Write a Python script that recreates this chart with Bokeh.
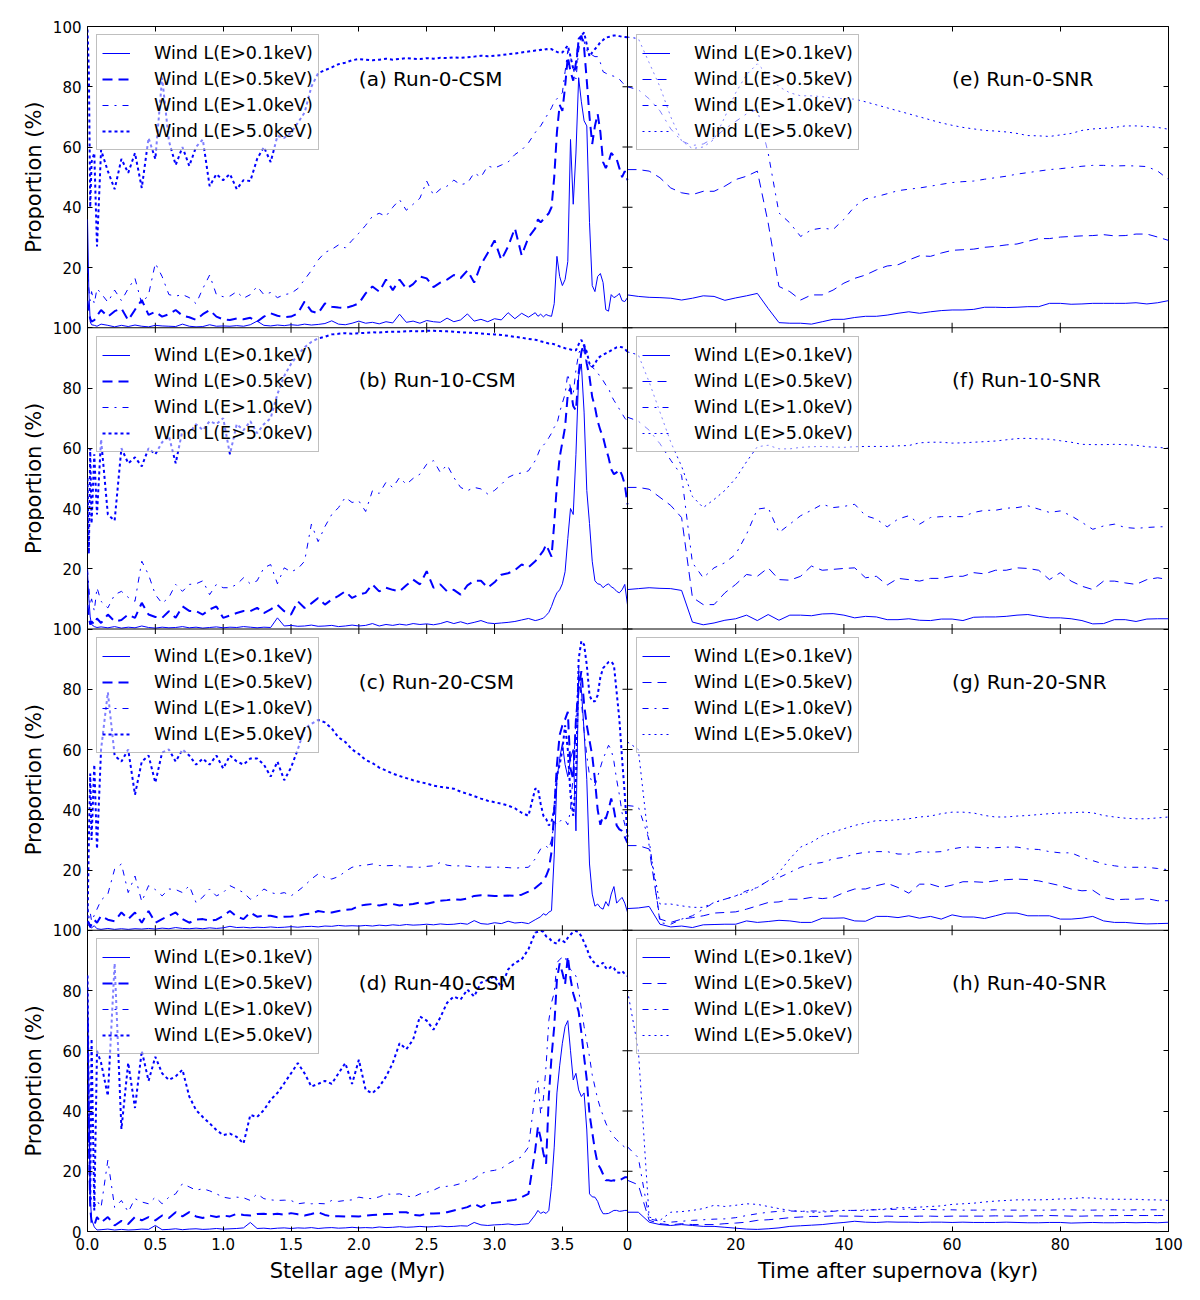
import math
from bokeh.plotting import figure
from bokeh.models import Range1d, LinearAxis, FixedTicker, Legend, LegendItem, Label, Span
from bokeh.layouts import row, column
from bokeh.core.properties import value
from bokeh.embed import file_html
from bokeh.resources import INLINE

# ---------------- data ----------------
X_CSM_EARLY = [0.0, 0.01, 0.02, 0.03, 0.05, 0.07,
               0.1, 0.15, 0.2, 0.25, 0.3, 0.35, 0.4, 0.45, 0.5, 0.55, 0.6, 0.65, 0.7, 0.75, 0.8, 0.85, 0.9, 0.95, 1.0,
               1.05, 1.1, 1.15, 1.2, 1.25, 1.3, 1.35, 1.4, 1.45, 1.5, 1.55, 1.6, 1.65, 1.7, 1.75, 1.8, 1.85, 1.9, 1.95, 2.0,
               2.05, 2.1, 2.15, 2.2, 2.25, 2.3, 2.35, 2.4, 2.45, 2.5, 2.55, 2.6, 2.65, 2.7, 2.75, 2.8, 2.85, 2.9, 2.95, 3.0,
               3.05, 3.1, 3.15, 3.2, 3.25, 3.3]
X_CSM_LATE = [3.32, 3.34, 3.36, 3.38, 3.4, 3.42, 3.44, 3.46, 3.48, 3.5, 3.52, 3.54, 3.56, 3.58, 3.6, 3.62, 3.64,
              3.66, 3.68, 3.7, 3.72, 3.74, 3.76, 3.78, 3.8, 3.82, 3.84, 3.86, 3.88, 3.9, 3.92, 3.94, 3.96, 3.98]
X_CSM = X_CSM_EARLY + X_CSM_LATE

X_SNR = [0, 2, 4, 6, 8, 10, 12, 14, 16, 18, 20, 22, 24, 26, 28, 30, 32, 34, 36, 38, 40, 42, 44, 46, 48, 50,
         52, 54, 56, 58, 60, 62, 64, 66, 68, 70, 72, 74, 76, 78, 80, 82, 84, 86, 88, 90, 92, 94, 96, 98, 100]

# (a) Run-0-CSM
A_01 = [36, 12, 2, 1, 0.8, 0.5,
        1.2, 0.8, 0.3, 0.8, 0.4, 0.9, 0.5, 0.3, 0.8, 0.6, 0.5, 0.4, 1.2, 0.5, 0.3, 0.4, 1.0, 0.5, 0.6,
        0.5, 0.7, 0.5, 1.0, 2.2, 0.8, 0.6, 0.9, 0.7, 1.0, 0.8, 1.2, 0.9, 1.1, 1.4, 2.3, 1.2, 1.0, 1.5, 2.2,
        1.5, 1.8, 1.3, 2.0, 1.6, 4.5, 1.8, 2.2, 1.5, 2.4, 2.0, 1.8, 3.2, 2.0, 2.6, 4.6, 2.2, 2.8, 2.0, 3.0,
        2.6, 5.0, 3.0, 4.8, 3.5, 5.0,
        3.8, 4.5, 3.6, 4.4, 4.0, 3.8, 8.0, 23.7, 17, 14, 16, 22, 62.5, 41, 58, 83, 75, 68.7, 67, 35,
        14, 12, 17, 18, 15, 6, 5.5, 11, 10, 10.5, 11.4, 9, 8.7, 10]
A_05 = [9, 5, 3, 2, 2.5, 4,
        5.9, 3.7, 5.5, 6.4, 2.5, 6.0, 9.2, 4.3, 5.3, 3.7, 4.5, 5.9, 4.0, 3.5, 2.6, 4.5, 5.9, 3.7, 2.8,
        2.6, 3.1, 2.8, 3.3, 2.0, 3.7, 4.8, 4.0, 3.5, 3.7, 4.8, 8.7, 5.5, 4.8, 8.1, 7.0, 6.7, 6.5, 7.2, 8.1,
        11.4, 13.7, 12, 16, 12.5, 16, 13, 14.5, 17, 16.4, 13.5, 15, 16, 17.5, 16.5, 19, 15, 21, 24.8, 29,
        22.5, 27, 33, 24, 30, 33,
        36, 35, 36, 37, 38, 40, 50, 65, 74, 72, 80, 90, 85, 82, 88, 95, 97, 93, 82, 70,
        61, 67, 71, 65, 55, 53, 55, 58, 57, 56, 53, 50, 52, 49]
A_10 = [20, 13, 9, 12, 8, 13,
        11.4, 8.5, 12.5, 9, 13, 16.4, 8, 11, 21.4, 17, 11, 10.5, 11, 10, 8, 13, 17.5, 11, 10.3,
        10.5, 12, 9.8, 11, 13.7, 11, 11.7, 10, 11, 11.4, 13, 16, 19, 22.5, 25, 26, 27.5, 26.5, 29, 31.4,
        34, 37, 38, 37, 40, 42.5, 39, 41, 43, 48.7, 44, 46, 47, 49, 47.5, 48, 51.4, 50, 53.7, 53,
        54, 55, 57.5, 59, 61.4, 64.8,
        66, 67, 68.5, 70, 71.4, 73, 75, 76, 77, 78, 85, 92, 90, 86, 82.6, 92, 97, 95, 92, 91.4,
        90.5, 90, 90, 88, 85, 84.5, 84, 83.7, 83.5, 83, 82.5, 81.5, 80.5, 79.8]
A_50 = [99, 85, 40, 55, 58, 27,
        59, 52, 46, 56, 51.4, 58, 46.4, 63, 56, 83, 62, 54, 60, 53.7, 60, 62.5, 47, 51, 49,
        51, 46, 49, 48.7, 56, 60, 55, 63.7, 63, 64.8, 68, 71.4, 80, 84.5, 85.5, 86.4, 87.5, 88, 88.8, 89.2,
        89, 88.8, 89, 89.3, 89, 89.2, 89.5, 89.3, 89.2, 89.5, 89.3, 89.6, 89.5, 89.8, 89.6, 89.8, 90, 90.3, 90.1, 90.3,
        90.5, 90.8, 91, 91.4, 91.7, 92,
        92, 92.3, 92.1, 92.5, 92.3, 92.5, 92, 91.6, 91.2, 91.4, 92.5, 93.7, 90, 86, 85.9, 95.9, 97, 98, 94, 90,
        91.4, 92.5, 93.5, 94.8, 95.5, 96.4, 96.5, 96.8, 97, 97, 96.8, 96.6, 96.5, 96.4]

# (b) Run-10-CSM
B_01 = [19, 10, 4, 1.5, 0.8, 0.5,
        0.7, 0.4, 0.8, 0.3, 0.6, 0.4, 1.0, 0.5, 0.3, 0.6, 0.4, 0.5, 0.8, 0.4, 0.6, 0.3, 0.5, 0.7, 0.4,
        0.6, 0.5, 0.8, 0.6, 0.4, 0.6, 0.5, 3.7, 1.0, 1.2, 0.9, 1.0, 1.3, 0.9, 1.0, 1.2, 0.8, 1.0, 1.3, 1.0,
        1.2, 1.8, 1.0, 1.5, 1.2, 1.6, 1.3, 1.8, 1.5, 1.7, 1.4, 1.8, 2.5, 1.8, 2.4, 1.7, 2.2, 2.8, 2.0, 1.8,
        2.0, 2.2, 2.5, 3.0, 3.5, 2.8,
        3.0, 3.3, 3.6, 4.5, 5.5, 7.5, 10, 12, 13, 15, 19, 30, 40, 38, 58, 84, 88, 72, 46, 35,
        22.5, 16, 15, 14.8, 13.7, 14.5, 15, 14, 13.5, 12.5, 12, 13, 14.8, 8]
B_05 = [8, 4, 1.5, 2.5, 1.5, 3.5,
        2.0, 4.8, 2.5, 3.0, 4.8, 3.7, 8.7, 4.8, 4.0, 3.7, 5.9, 3.7, 7.5, 6.0, 5.9, 4.8, 6.5, 7.5, 3.7,
        4.5, 5.3, 6.0, 5.9, 7.0, 5.3, 6.5, 8.0, 5.9, 4.8, 9.2, 7.0, 8.5, 10.3, 8.1, 9.8, 11, 12.5, 10.3, 11.4,
        12, 14.8, 12.5, 13.7, 13, 12.5, 14.5, 16.4, 14.8, 19.2, 13.7, 14.8, 12.5, 13, 11.4, 14.5, 16, 16, 13.7, 15.5,
        18, 18.5, 19.5, 21.4, 20.5, 22.5,
        23.5, 24.8, 26, 28, 26, 24, 35, 48, 57, 62, 67, 78, 80, 74, 72.5, 85, 92, 94.8, 88, 83.7,
        77, 73.7, 69, 66, 63.7, 60, 57, 53, 51.4, 52, 53, 51, 48, 41.4]
B_10 = [20, 14, 8, 10, 6, 13.7,
        9.2, 7, 11.4, 12.5, 10.5, 9.2, 22.5, 18, 11.4, 8.5, 10.5, 14.8, 12.5, 14.8, 15, 16, 11.4, 14.8, 13.7,
        13.7, 14.8, 17, 15, 16, 20.3, 21.4, 15, 20.3, 19, 20, 22.5, 34.8, 29, 34, 38, 40.3, 43.7, 42, 42.5,
        39, 45.9, 45, 48.7, 47, 50.3, 48, 50, 51.4, 54.7, 55.9, 52, 54.5, 50.3, 47, 45.9, 47, 46.5, 44.8, 46,
        48, 50.3, 51.4, 51.8, 52.5, 55.9,
        58, 60.3, 61, 62, 63.5, 65, 67, 68, 72, 75, 78, 84.8, 80, 78, 86, 91.4, 93.7, 92, 88, 87.5,
        87, 86, 85, 83.7, 82.5, 81, 80, 77.5, 75.9, 74.5, 73, 71.5, 70, 69]
B_50 = [50, 25, 60, 35, 58, 38,
        63, 38, 36, 60, 55, 57, 54, 60, 58, 62, 64, 55, 66, 65, 68, 66, 69, 68, 70,
        58, 68, 66, 69, 65, 68, 70, 78, 84, 88, 91, 93.5, 95.3, 96.5, 97, 97.8, 98, 98.2, 98, 98.2,
        98.3, 98.5, 98.4, 98.6, 98.7, 98.7, 98.8, 98.9, 98.8, 99, 99, 98.9, 98.8, 98.7, 98.5, 98.4, 98.3, 98.1, 97.9, 97.8,
        97.6, 97.3, 97, 96.7, 96.3, 96,
        95.8, 95.5, 95.3, 95, 94.8, 94.8, 94.5, 94.2, 93.8, 93.5, 93.2, 93, 92.8, 92.5, 92.5, 94.5, 96, 94, 92, 88,
        87, 88, 89.8, 90.5, 91, 91.5, 92, 92.5, 93, 93.5, 93.7, 93.5, 93, 92]

# (c) Run-20-CSM
C_01 = [2.2, 1.5, 1.0, 0.8, 1.5, 0.5,
        0.3, 0.6, 0.3, 0.5, 0.3, 0.5, 0.4, 0.6, 0.4, 0.7, 0.5, 0.9, 0.6, 0.5, 0.7, 0.5, 0.8, 0.6, 0.8,
        1.3, 0.9, 1.0, 0.8, 1.0, 0.9, 1.1, 0.9, 1.0, 1.2, 1.0, 1.2, 1.3, 1.1, 1.4, 1.3, 1.6, 1.4, 1.5, 1.4,
        1.6, 1.4, 1.7, 1.5, 1.8, 1.6, 1.9, 1.7, 1.8, 2.0, 1.8, 2.1, 1.9, 2.0, 2.3, 2.0, 3.2, 2.2, 2.0, 2.5,
        2.2, 3.0, 2.4, 2.6, 2.2, 3.5,
        4.0, 4.5, 5.5, 5.0, 6.0, 6.5, 25, 50, 57, 62, 55, 51, 57, 60, 33, 85, 80, 66, 50, 22,
        12, 8, 8.7, 7.5, 7, 9.5, 8, 12, 14.5, 9, 10, 10.9, 9, 6]
C_05 = [3.0, 2.5, 1.0, 2.0, 3.5, 2.5,
        4.8, 3.5, 3.0, 5.9, 3.7, 5.9, 2.5, 6.4, 2.5, 3.7, 4.8, 5.9, 3.7, 2.5, 3.5, 3.7, 3.2, 3.5, 4.8,
        6.4, 4.5, 3.7, 5.9, 4.5, 4.8, 4.8, 4.3, 4.5, 4.6, 4.8, 5.3, 5.5, 6.4, 6.0, 5.9, 6.4, 6.8, 7.0, 8.1,
        8.5, 8.7, 8.2, 8.6, 8.7, 8.2, 8.5, 8.7, 9.2, 8.8, 9.3, 9.8, 10, 10.3, 10.1, 10.5, 11.4, 11.6, 11.5, 11.4,
        11.4, 11.5, 11.4, 11.8, 12.8, 14,
        14.8, 15.5, 16.4, 18, 20.3, 26, 40, 55, 64.8, 68, 70, 72.5, 53.7, 50, 70, 80, 86, 75, 68, 63,
        58, 50, 40, 35, 38, 37, 40, 43.7, 40, 34.8, 33.5, 33, 31, 29]
C_10 = [8, 4, 6, 3, 5, 7,
        10, 12, 20.3, 22, 12.5, 18, 9.5, 14.8, 13.5, 11.4, 13.7, 13.5, 12.5, 14.8, 9.2, 11, 13.7, 11.4, 12.5,
        14.8, 13.7, 12.5, 10.3, 11.4, 13.7, 12.5, 12, 12.5, 11.4, 13, 14.8, 17, 18.7, 17.5, 17, 17.8, 19.5, 20.9, 21.4,
        21.6, 22, 21.5, 21.4, 21.5, 21.4, 21, 21, 20.9, 21.2, 21.4, 22.5, 21.6, 21.3, 21.4, 21.3, 21, 21.1, 20.9, 21,
        20.9, 20.8, 20.6, 20.8, 20.9, 23.7,
        25.5, 27, 27.5, 28, 27, 30, 36, 35, 36, 37, 36.5, 35, 40, 52, 70, 87, 76, 66, 58, 51.4,
        49, 48, 51, 54, 57, 59, 61.4, 60, 56, 50, 45, 39, 35, 31.4]
C_50 = [2, 30, 52, 30, 55, 27,
        60, 79, 58, 56, 60, 45, 56, 58, 49, 59, 60, 56, 60, 58, 55, 57, 55, 58, 53.7,
        58, 56, 55, 57, 57, 55, 51, 56, 49.8, 54, 60, 67, 68.5, 69.8, 69, 67, 64, 62.5, 60, 58.5,
        56.5, 55.5, 54, 53, 52, 51.2, 50.5, 49.8, 49.2, 48.7, 48, 47.6, 47.3, 47, 46, 45.3, 44.5, 43.7, 43, 42.5,
        42, 41.4, 40.5, 39, 38, 47,
        47, 42, 38, 37, 34.8, 36, 40, 51.4, 55, 60, 68, 60, 45, 38, 50, 90, 96, 94.8, 88, 78,
        76, 76, 78, 84, 87, 88, 89, 89.2, 88, 79, 70, 57, 45, 31]

# (d) Run-40-CSM
D_01 = [85, 45, 12, 4, 1.5, 0.5,
        0.6, 0.8, 0.5, 0.7, 0.5, 0.6, 0.8, 0.7, 2.0, 0.6, 0.7, 0.9, 0.6, 0.8, 0.9, 0.7, 0.8, 1.0, 0.8,
        0.9, 1.0, 1.2, 3.0, 1.0, 1.1, 0.9, 1.1, 1.2, 1.0, 1.2, 1.1, 1.3, 1.0, 1.2, 1.3, 1.1, 1.2, 1.4, 1.2,
        1.3, 1.2, 1.5, 1.3, 1.4, 1.6, 1.4, 1.5, 1.7, 1.5, 1.6, 1.8, 1.6, 1.7, 1.9, 1.8, 3.0, 2.2, 2.0, 2.2,
        2.3, 2.5, 2.2, 2.4, 2.6, 5.5,
        7.0, 6.0, 6.5, 6.0, 7.0, 15, 28, 46, 55, 62.5, 68, 70, 60, 50.3, 52.5, 47, 44.8, 46, 33.7, 12.5,
        11.5, 11.4, 10, 7.5, 5.9, 5.9, 6.0, 6.5, 7.0, 7.0, 6.7, 6.8, 7.0, 7.0]
D_05 = [70, 30, 8, 3, 2, 4.8,
        3.0, 4.8, 2.0, 3.5, 2.5, 4.8, 3.7, 4.8, 3.7, 5.3, 4.5, 6.4, 5.0, 6.4, 5.0, 4.5, 5.3, 4.8, 5.3,
        5.0, 5.9, 5.5, 5.3, 5.8, 5.9, 5.6, 5.9, 5.6, 6.1, 5.7, 5.3, 5.8, 6.4, 5.5, 5.0, 5.1, 5.0, 5.1, 5.0,
        5.3, 5.5, 5.6, 5.8, 5.9, 6.4, 6.4, 5.5, 5.3, 5.9, 6.0, 6.1, 6.4, 7.0, 7.5, 8.1, 9.2, 8.1, 9.2, 9.5,
        9.8, 10.2, 10.5, 11.4, 12.5, 27,
        34.8, 31, 26, 22.5, 44.8, 58, 68, 83.7, 89, 86, 82, 91.4, 84, 79, 76, 73, 66, 58, 50.3, 39,
        33, 27, 22.5, 21, 19, 17, 17, 16.8, 17, 16.7, 17, 17.5, 18, 18]
D_10 = [75, 35, 15, 10, 8, 10.3,
        8, 23.7, 8, 10.3, 6.5, 10.9, 9.8, 9.2, 11.4, 9.2, 11.4, 12.5, 15.9, 14.8, 13.7, 14.2, 13.5, 12.5, 11.4,
        11, 11.4, 11.2, 10.3, 12.5, 10.9, 10.5, 10.3, 10.4, 10.3, 9.2, 9.5, 9.2, 9.3, 9.2, 10.3, 10.0, 10.3, 10.5, 11.4,
        11.0, 10.9, 11.5, 12.5, 12.3, 12.5, 11.8, 11.4, 12.5, 13, 13.7, 14.8, 15, 15.3, 15.9, 17, 17.5, 19.2, 20, 20.3,
        20.9, 22.5, 23.7, 24.8, 28, 45.9,
        50, 39, 44, 55, 70, 76, 79.2, 89.2, 90.3, 91, 91.4, 88, 87, 86, 84.8, 80, 74, 68, 63, 58,
        52, 48, 44, 41, 38.5, 36, 34, 33, 31.4, 30.5, 29.5, 28.7, 28, 27]
D_50 = [85, 40, 10, 64, 7, 60,
        56, 45, 89, 34, 56, 41, 60, 50, 58, 52.5, 50.3, 51.5, 53.7, 44.8, 40.3, 38, 35.9, 33.7, 32,
        32.5, 31.4, 29.2, 38.7, 38, 40.3, 43.7, 46, 49.2, 52.5, 55.9, 52.5, 48.1, 49, 50, 49, 52.5, 55.9, 49, 57,
        47, 45.9, 48, 51.4, 55.9, 62.5, 60.5, 63.7, 71.4, 70, 67, 71, 75.9, 78, 77, 80.3, 78, 82.6, 83.5, 84.8,
        81, 87, 89.2, 90.3, 93.7, 99.2,
        99.5, 99.8, 99.5, 98, 97.5, 96.5, 95.9, 95.5, 97, 96.5, 96, 97.5, 98.5, 99.5, 99.8, 99.3, 98, 96, 94, 91.4,
        90, 89, 88, 88.5, 89.2, 87.5, 87, 88, 87.5, 86, 85.9, 86.5, 85.5, 84.8]

# (e) Run-0-SNR
E_01 = [10.9, 10.4, 10.1, 10.0, 9.8, 9.2, 9.8, 10.6, 10.4, 9.1, 9.9, 10.6, 11.4, 6.4, 1.7, 1.5, 1.5, 1.2, 2.0, 2.8,
        2.8, 3.4, 3.8, 3.8, 4.2, 4.8, 5.3, 4.8, 5.3, 5.7, 5.9, 5.9, 6.1, 6.8, 6.8, 6.7, 6.8, 7.0, 7.0, 8.1,
        8.1, 7.8, 7.9, 8.1, 8.1, 8.1, 8.1, 8.3, 7.9, 8.3, 9.0]
E_05 = [52.5, 52.5, 52.0, 49.8, 46.4, 44.8, 44.2, 45.3, 45.3, 47.0, 49.2, 50.3, 52.0, 34.8, 13.7, 12.0, 9.2, 10.9,
        10.9, 12.5, 14.8, 16.4, 17.5, 19.2, 20.5, 20.9, 22.5, 23.9, 23.7, 24.8, 25.7, 25.9, 26.1, 26.7, 27.0, 27.5,
        27.8, 28.7, 29.6, 29.6, 30.1, 30.3, 30.5, 30.6, 30.9, 30.5, 30.6, 31.1, 31.1, 30.1, 29.0]
E_10 = [80, 79, 76, 72, 66, 62, 60.5, 61, 63, 66, 68.5, 71, 72.5, 58, 38.1, 34.8, 30.3, 32.5, 33.1, 32.6,
        36, 40.3, 42.8, 43.5, 44.5, 45.5, 46, 46.4, 47, 47.6, 48.2, 48.5, 48.7, 49.3, 49.8, 50.3, 51, 51.5, 52, 52.5,
        52.8, 53.2, 53.6, 53.9, 53.9, 53.7, 53.8, 53.7, 53.5, 52, 49.2]
E_50 = [96.5, 96, 88, 80, 70, 62, 59.5, 60, 62.5, 70, 78, 84, 87.6, 84, 80, 78, 77, 77, 76.7, 76.2,
        76, 75.9, 75, 74, 73, 72, 71, 70, 69, 68, 67.2, 66.5, 66, 65.5, 65.3, 65, 64.5, 63.8, 63.7, 63.5,
        64, 64.5, 65.5, 66, 66.2, 66.5, 67, 67, 66.8, 66.5, 65.9]

# (f) Run-10-SNR
F_01 = [13.1, 13.4, 13.7, 13.5, 13.4, 12.8, 2.3, 1.4, 2.0, 2.9, 3.4, 4.6, 2.8, 4.8, 2.9, 4.6, 4.6, 4.4, 5.0, 5.1,
        4.6, 3.7, 4.2, 4.0, 3.1, 3.1, 3.4, 2.9, 2.8, 3.3, 3.3, 2.8, 3.9, 4.0, 4.0, 4.2, 4.6, 4.8, 4.2, 3.7,
        3.7, 3.4, 2.8, 1.7, 1.8, 3.1, 3.1, 2.5, 3.3, 3.4, 3.4]
F_05 = [47, 47, 46.4, 43.7, 41, 37, 10.5, 8.1, 8.1, 12, 14.8, 18.1, 17.5, 20.3, 16.4, 16.2, 17.5, 20.9, 19.5, 19.8,
        20.1, 20.3, 17.0, 17.5, 14.6, 16.8, 16.4, 15.9, 16.8, 16.8, 17.5, 17.5, 18.7, 18.3, 19.5, 19.5, 20.3, 20.1,
        19.5, 16.4, 18.7, 15.9, 14.2, 13.1, 15.9, 15.9, 15.3, 14.8, 16.4, 17.0, 16.4]
F_10 = [70.3, 69, 66, 61.5, 56, 51, 22, 17, 20.3, 22, 24.8, 31.4, 39.8, 40.3, 32, 34.8, 37.6, 39.4, 41.4, 40.3,
        40.7, 41.4, 37.6, 36.5, 33.9, 36.5, 37.6, 34.8, 37, 37.3, 37.3, 37.3, 38.7, 39.4, 39.4, 40.1, 40.3, 40.9,
        39.8, 38.7, 39.2, 37.6, 35.4, 33.1, 34.2, 34.8, 33.7, 33.4, 33.7, 33.9, 34.0]
F_50 = [92, 91, 82, 72, 62, 54, 44, 40.3, 43, 46, 50, 55.5, 60.5, 61, 59.8, 59.8, 60.3, 60.5, 60.6, 60.4,
        60.3, 60.5, 60.6, 60.6, 60.6, 60.8, 60.9, 61.8, 62.0, 62.0, 61.7, 61.8, 62.0, 62.2, 62.4, 62.8, 63.2, 63.3,
        63.1, 63.0, 62.5, 62, 61.3, 61.2, 61.2, 61.3, 61.2, 61, 60.5, 60.3, 60.0]

# (g) Run-20-SNR
G_01 = [7.2, 7.4, 7.9, 2.0, 1.1, 1.4, 0.9, 1.8, 1.9, 2.0, 2.0, 3.1, 2.6, 2.9, 3.3, 3.1, 2.6, 2.6, 4.0, 4.0,
        4.1, 3.1, 3.0, 4.6, 4.6, 4.2, 4.8, 4.0, 4.6, 3.7, 5.1, 4.4, 4.4, 3.9, 4.8, 5.7, 5.7, 4.8, 4.8, 4.8,
        3.7, 3.7, 4.0, 4.6, 3.1, 2.6, 2.6, 2.3, 2.1, 2.2, 2.3]
G_05 = [28.1, 28.1, 27.0, 3.7, 2.6, 3.7, 4.2, 4.8, 5.7, 5.9, 6.1, 7.0, 8.1, 9.2, 9.4, 10.3, 10.3, 10.9, 10.5, 10.9,
        12.5, 13.7, 13.7, 14.8, 15.6, 14.2, 12.3, 15.3, 15.3, 14.2, 15.0, 16.1, 16.1, 15.9, 16.4, 16.8, 17.0, 16.8,
        16.4, 15.6, 14.8, 13.7, 13.1, 13.3, 10.9, 10.1, 10.3, 10.3, 10.5, 9.8, 9.8]
G_10 = [41.4, 41, 30, 2.5, 2.0, 3.7, 4.8, 7.0, 9.2, 10.3, 11.4, 13.1, 14.2, 16.4, 17.5, 19.2, 20.9, 22.0, 22.5, 23.7,
        24.2, 25.3, 25.9, 26.1, 26.1, 25.3, 25.3, 26.1, 25.9, 26.1, 27.0, 27.6, 27.6, 27.4, 27.4, 27.6, 27.6, 27.0,
        26.8, 26.1, 25.7, 25.7, 24.2, 23.1, 22.0, 21.4, 20.9, 20.9, 20.9, 20.5, 20.1]
G_50 = [62.5, 60, 28, 8.7, 8.7, 8.1, 7.6, 7.6, 9.2, 10.3, 11.4, 12.5, 14.2, 16.4, 19.2, 23.7, 27.6, 29.2, 31.4, 32.6,
        33.7, 34.8, 35.6, 36.4, 36.4, 36.7, 37.0, 37.6, 37.9, 38.7, 39.2, 39.2, 38.9, 38.1, 37.6, 37.6, 37.9, 38.1,
        38.4, 38.7, 38.9, 39.0, 39.2, 39.0, 38.1, 37.6, 37.2, 37.0, 37.0, 37.3, 37.6]

# (h) Run-40-SNR
H_01 = [6.4, 6.4, 3.1, 2.3, 2.0, 2.3, 2.0, 1.7, 1.7, 1.4, 1.1, 0.8, 0.7, 0.9, 1.2, 1.7, 1.9, 2.1, 2.3, 2.7,
        3.0, 3.4, 3.1, 3.0, 3.2, 3.1, 3.1, 3.0, 3.1, 3.1, 3.0, 3.1, 3.0, 3.0, 3.0, 3.1, 3.0, 2.9, 2.9, 3.0,
        3.0, 2.8, 2.9, 3.0, 2.9, 2.9, 3.0, 2.9, 3.0, 2.9, 3.1]
H_05 = [17, 15.5, 3.7, 2.6, 2.2, 2.6, 2.3, 2.3, 2.3, 2.6, 2.8, 3.1, 3.7, 3.9, 4.2, 4.6, 4.8, 5.0, 5.0, 5.2,
        5.1, 5.1, 5.0, 5.0, 5.1, 5.0, 5.0, 5.1, 5.1, 5.0, 5.1, 5.1, 5.1, 5.1, 5.2, 5.1, 5.1, 5.2, 5.2, 5.3,
        5.2, 5.1, 5.1, 5.2, 5.2, 5.3, 5.3, 5.3, 5.3, 5.3, 5.3]
H_10 = [28.1, 24.5, 4.2, 3.4, 3.1, 3.4, 3.7, 3.9, 4.1, 4.2, 4.6, 5.3, 5.9, 6.4, 6.7, 6.8, 6.7, 6.8, 6.8, 6.7,
        7.0, 7.0, 7.2, 7.2, 7.3, 7.4, 7.4, 7.3, 7.3, 7.2, 7.2, 7.1, 7.1, 7.1, 7.2, 7.1, 7.1, 7.1, 7.1, 7.1,
        7.2, 7.2, 7.1, 7.1, 7.2, 7.2, 7.1, 7.2, 7.2, 7.2, 7.2]
H_50 = [80, 60.3, 4.8, 3.7, 6.4, 6.6, 7.0, 7.6, 8.7, 8.3, 8.7, 9.2, 9.0, 8.3, 7.6, 7.0, 6.7, 6.4, 6.4, 6.8,
        7.0, 7.0, 7.0, 7.3, 7.5, 7.9, 7.9, 8.1, 8.3, 8.5, 9.0, 9.2, 9.4, 9.8, 10.1, 10.3, 10.5, 10.5, 10.5, 10.6,
        10.8, 10.9, 11.2, 11.1, 10.8, 10.7, 10.7, 10.7, 10.5, 10.5, 10.3]

SERIES_LABELS = ["Wind L(E>0.1keV)", "Wind L(E>0.5keV)", "Wind L(E>1.0keV)", "Wind L(E>5.0keV)"]
CSM_TITLES = ["(a) Run-0-CSM", "(b) Run-10-CSM", "(c) Run-20-CSM", "(d) Run-40-CSM"]
SNR_TITLES = ["(e) Run-0-SNR", "(f) Run-10-SNR", "(g) Run-20-SNR", "(h) Run-40-SNR"]
CSM_DATA = [[A_01, A_05, A_10, A_50], [B_01, B_05, B_10, B_50], [C_01, C_05, C_10, C_50], [D_01, D_05, D_10, D_50]]
SNR_DATA = [[E_01, E_05, E_10, E_50], [F_01, F_05, F_10, F_50], [G_01, G_05, G_10, G_50], [H_01, H_05, H_10, H_50]]

XT_CSM = [0.0, 0.5, 1.0, 1.5, 2.0, 2.5, 3.0, 3.5]
XT_CSM_LABELS = ["0.0", "0.5", "1.0", "1.5", "2.0", "2.5", "3.0", "3.5"]
XT_SNR = [0, 20, 40, 60, 80, 100]
XT_SNR_LABELS = ["0", "20", "40", "60", "80", "100"]
YT = [0, 20, 40, 60, 80, 100]
Y_LABEL = "Proportion (%)"
X_LABEL_CSM = "Stellar age (Myr)"
X_LABEL_SNR = "Time after supernova (kyr)"

# ---------------- layout / style ----------------
BLUE = "#0000ff"
FONT = "DejaVu Sans"
FW_L, FW_R = 540, 541
FW = FW_L + FW_R
FH = 1205
PANEL_H = FH / 4.0
CSM_END = 3.98
X_END = CSM_END * FW / FW_L
TICK = 5
YLAB_W = 44           # width of the strip holding the y-axis titles
LEFT = 87             # left edge of the plotting frame on the page
TOP = 26
BOTTOM_AXIS = 24
RIGHT = 16
LEG_H = 114

STY_CSM = [dict(line_width=1, line_dash="solid"), dict(line_width=2, line_dash="10 6"),
           dict(line_width=1, line_dash="6 6 2 6"), dict(line_width=2, line_dash="3 3")]
STY_SNR = [dict(line_width=1, line_dash="solid"), dict(line_width=1, line_dash="9 6"),
           dict(line_width=1, line_dash="6 6 2 6"), dict(line_width=1, line_dash="2 4")]

p = figure(frame_width=FW, frame_height=FH, x_range=Range1d(0, X_END), y_range=Range1d(0, 400),
           output_backend="svg", toolbar_location=None,
           min_border_left=LEFT - YLAB_W, min_border_right=RIGHT, min_border_top=TOP,
           min_border_bottom=BOTTOM_AXIS)
p.extra_x_ranges = {"snr": Range1d(-100.0 * FW_L / FW_R, 100)}
p.extra_y_ranges = {"row%d" % k: Range1d(-100 * (3 - k), 100 + 100 * k) for k in range(4)}
p.xgrid.grid_line_color = None
p.ygrid.grid_line_color = None
p.outline_line_color = "black"
p.outline_line_width = 1
p.background_fill_color = "white"
p.border_fill_color = "white"

snr_pos = [round(CSM_END + t / 100.0 * (X_END - CSM_END), 6) for t in XT_SNR]
x_ticks = XT_CSM + snr_pos
x_labels = dict(zip(x_ticks, XT_CSM_LABELS + XT_SNR_LABELS))
y_ticks = sorted(set(t + 100 * k for k in range(4) for t in YT))
y_labels = {v: ("0" if v == 0 else ("100" if v % 100 == 0 else str(v % 100))) for v in y_ticks}


def style_axis(ax, labels):
    ax.major_tick_in = TICK
    ax.major_tick_out = 0
    ax.minor_tick_line_color = None
    ax.axis_line_color = None
    ax.major_tick_line_color = "black"
    ax.major_label_text_font = FONT
    if labels is None:
        ax.major_label_text_font_size = "0px"
        ax.major_label_standoff = 0
    else:
        ax.major_label_text_font_size = "15px"
        ax.major_label_text_color = "black"
        ax.major_label_standoff = 6
        ax.major_label_overrides = labels


xb = p.xaxis[0]
xb.ticker = FixedTicker(ticks=x_ticks)
style_axis(xb, x_labels)
yl = p.yaxis[0]
yl.ticker = FixedTicker(ticks=y_ticks)
style_axis(yl, y_labels)

xa = LinearAxis(ticker=FixedTicker(ticks=x_ticks))
xa.major_label_overrides = {t: "" for t in x_ticks}
style_axis(xa, None)
p.add_layout(xa, "above")
yr = LinearAxis(ticker=FixedTicker(ticks=y_ticks))
yr.major_label_overrides = {t: "" for t in y_ticks}
style_axis(yr, None)
p.add_layout(yr, "right")

# panel borders and inner tick marks
for b in [100, 200, 300]:
    p.add_layout(Span(location=b, dimension="width", line_color="black", line_width=1))
p.add_layout(Span(location=CSM_END, dimension="height", line_color="black", line_width=1))
dy = TICK * 400.0 / FH
dx = TICK * X_END / FW
for b in [100, 200, 300]:
    p.segment(x0=x_ticks, y0=[b - dy] * len(x_ticks), x1=x_ticks, y1=[b + dy] * len(x_ticks),
              line_color="black", line_width=1)
p.segment(x0=[CSM_END - dx] * len(y_ticks), y0=y_ticks, x1=[CSM_END + dx] * len(y_ticks), y1=y_ticks,
          line_color="black", line_width=1)


def add_panel(k, xs, data, styles, xr_name, title, title_x, legend_x):
    rname = "row%d" % k
    rs = []
    for ys, st in zip(data, styles):
        n = min(len(xs), len(ys))
        r = p.line(xs[:n], ys[:n], line_color=BLUE, line_alpha=1.0, x_range_name=xr_name,
                   y_range_name=rname, **st)
        rs.append(r)
    p.add_layout(Label(x=title_x, y=82.5, x_range_name=xr_name, y_range_name=rname, text=title,
                       text_font=FONT, text_font_size="20px", text_baseline="middle", text_align="left",
                       text_color="black"))
    leg_y = math.floor(FH - PANEL_H * k - 10 - LEG_H) + 0.5
    leg = Legend(items=[LegendItem(label=lab, renderers=[r]) for lab, r in zip(SERIES_LABELS, rs)],
                 location=(legend_x, leg_y), orientation="vertical",
                 label_text_font=FONT, label_text_font_size="17.5px", label_text_color="black",
                 glyph_width=28, glyph_height=26, label_height=26, label_standoff=24,
                 padding=5, spacing=0, margin=0,
                 border_line_color="#808080", border_line_width=1,
                 background_fill_color="white", background_fill_alpha=0.5)
    p.add_layout(leg)


for k in range(4):
    add_panel(k, X_CSM, CSM_DATA[k], STY_CSM, "default", CSM_TITLES[k], 2.0, 9)
    add_panel(k, X_SNR, SNR_DATA[k], STY_SNR, "snr", SNR_TITLES[k], 60, FW_L + 9)

# strip with the y-axis titles (one per row)
ylab = figure(frame_width=YLAB_W, frame_height=FH, x_range=Range1d(0, 1), y_range=Range1d(0, 400),
              output_backend="svg", toolbar_location=None, x_axis_type=None, y_axis_type=None,
              min_border_left=0, min_border_right=0, min_border_top=TOP, min_border_bottom=0)
ylab.outline_line_color = None
ylab.xgrid.grid_line_color = None
ylab.ygrid.grid_line_color = None
ylab.text(x=[0.75] * 4, y=[50 + 100 * k for k in range(4)], text=[Y_LABEL] * 4, angle=math.pi / 2,
          text_align="center", text_baseline="middle", text_font=value(FONT),
          text_font_size=value("21px"), text_color="black")

# strip with the x-axis titles
xlab = figure(frame_width=FW, frame_height=30, x_range=Range1d(0, X_END), y_range=Range1d(0, 1),
              output_backend="svg", toolbar_location=None, x_axis_type=None, y_axis_type=None,
              min_border_left=LEFT, min_border_right=RIGHT, min_border_top=0, min_border_bottom=0)
xlab.extra_x_ranges = {"snr": Range1d(-100.0 * FW_L / FW_R, 100)}
xlab.outline_line_color = None
xlab.xgrid.grid_line_color = None
xlab.ygrid.grid_line_color = None
xlab.text(x=[CSM_END / 2.0], y=[0.5], text=[X_LABEL_CSM], text_align="center", text_baseline="middle",
          text_font=value(FONT), text_font_size=value("21px"), text_color="black")
xlab.text(x=[50], y=[0.5], text=[X_LABEL_SNR], x_range_name="snr", text_align="center",
          text_baseline="middle", text_font=value(FONT), text_font_size=value("21px"), text_color="black")

layout = column(row(ylab, p), xlab)
open("out.html", "w").write(file_html(layout, INLINE))
